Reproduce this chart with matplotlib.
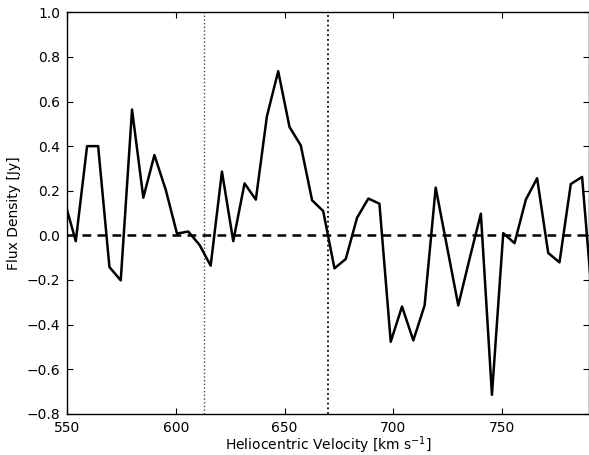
import matplotlib
matplotlib.use("Agg")
import matplotlib.pyplot as plt

velocity = [548.7, 553.9, 559.1, 564.2, 569.4, 574.6, 579.8, 585.0, 590.1, 595.3,
            600.5, 605.7, 610.9, 616.0, 621.2, 626.4, 631.6, 636.8, 641.9, 647.1,
            652.3, 657.5, 662.7, 667.8, 673.0, 678.2, 683.4, 688.6, 693.7, 698.9,
            704.1, 709.3, 714.5, 719.6, 724.8, 730.0, 735.2, 740.4, 745.5, 750.7,
            755.9, 761.1, 766.3, 771.4, 776.6, 781.8, 787.0, 792.2]
flux = [0.155, -0.026, 0.400, 0.400, -0.142, -0.202, 0.564, 0.169, 0.360, 0.205,
        0.008, 0.017, -0.043, -0.136, 0.286, -0.026, 0.233, 0.160, 0.534, 0.736,
        0.486, 0.403, 0.157, 0.109, -0.148, -0.106, 0.079, 0.165, 0.142, -0.477,
        -0.319, -0.471, -0.314, 0.214, -0.050, -0.314, -0.105, 0.097, -0.715, 0.010,
        -0.035, 0.160, 0.256, -0.079, -0.121, 0.230, 0.262, -0.350]
vline_lo = 613.0
vline_hi = 670.0
xticks = [550, 600, 650, 700, 750]
yticks = [-0.8, -0.6, -0.4, -0.2, 0.0, 0.2, 0.4, 0.6, 0.8, 1.0]

plt.rcParams['font.family'] = ['DejaVu Sans']
plt.rcParams['font.size'] = 10

fig = plt.figure(figsize=(5.89, 4.55), dpi=100)
ax = fig.add_axes([67.3/589, 1-413.8/455, (588.6-67.3)/589, (413.8-12.3)/455])

ax.plot(velocity, flux, color='black', lw=1.8, zorder=3)
ax.axhline(0.0, color='black', lw=1.8, ls=(0, (3.5, 2.5)), zorder=2)
ax.axvline(vline_lo, color='#444444', lw=1.0, ls=':', zorder=1)
ax.axvline(vline_hi, color='black', lw=1.3, ls=':', zorder=1)

ax.set_xlim(550, 790)
ax.set_ylim(-0.8, 1.0)
ax.set_xticks(xticks)
ax.set_yticks(yticks)
ax.set_yticklabels([f"{t:.1f}".replace('-', '\u2212') for t in yticks])
ax.tick_params(direction='in', top=True, right=True, length=4, width=0.8, pad=5)
for s in ax.spines.values():
    s.set_linewidth(1.0)

ax.set_xlabel('Heliocentric Velocity [km s$^{-1}$]', labelpad=0)
ax.set_ylabel('Flux Density [Jy]', labelpad=4)

fig.savefig('out.png', dpi=100)
